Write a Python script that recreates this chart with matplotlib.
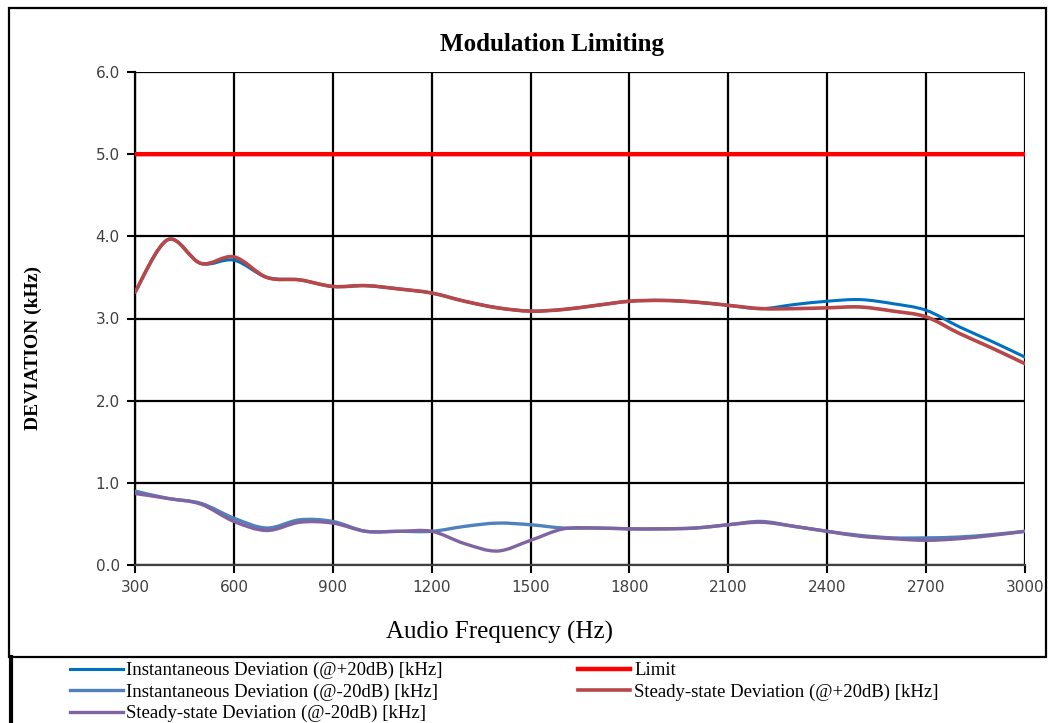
import numpy as np
import matplotlib.pyplot as plt
from matplotlib.path import Path
from matplotlib.patches import PathPatch, Rectangle
from matplotlib.lines import Line2D

# Audio frequency (Hz)
freq = [300, 400, 500, 600, 700, 800, 900, 1000, 1100, 1200, 1300, 1400, 1500, 1600,
        1700, 1800, 1900, 2000, 2100, 2200, 2300, 2400, 2500, 2600, 2700, 2800, 2900, 3000]

# Deviation (kHz)
inst_p20 = [3.32, 3.96, 3.67, 3.71, 3.50, 3.47, 3.39, 3.40, 3.36, 3.31, 3.21, 3.13, 3.09, 3.11,
            3.16, 3.21, 3.22, 3.20, 3.16, 3.12, 3.17, 3.21, 3.23, 3.18, 3.10, 2.90, 2.72, 2.53]
steady_p20 = [3.32, 3.96, 3.67, 3.75, 3.50, 3.47, 3.39, 3.40, 3.36, 3.31, 3.21, 3.13, 3.09, 3.11,
              3.16, 3.21, 3.22, 3.20, 3.16, 3.12, 3.12, 3.13, 3.14, 3.09, 3.02, 2.82, 2.64, 2.45]
inst_m20 = [0.90, 0.81, 0.75, 0.57, 0.45, 0.55, 0.53, 0.41, 0.41, 0.41, 0.47, 0.51, 0.49, 0.45,
            0.45, 0.44, 0.44, 0.45, 0.49, 0.53, 0.47, 0.41, 0.36, 0.33, 0.33, 0.34, 0.37, 0.41]
steady_m20 = [0.87, 0.81, 0.74, 0.53, 0.42, 0.52, 0.51, 0.41, 0.41, 0.41, 0.26, 0.17, 0.30, 0.44,
              0.45, 0.44, 0.44, 0.45, 0.49, 0.52, 0.47, 0.41, 0.35, 0.32, 0.30, 0.32, 0.36, 0.41]
limit = [5.0] * len(freq)

labels = ['Instantaneous Deviation (@+20dB) [kHz]', 'Limit',
          'Instantaneous Deviation (@-20dB) [kHz]', 'Steady-state Deviation (@+20dB) [kHz]',
          'Steady-state Deviation (@-20dB) [kHz]']
colors = ['#0070C0', '#FF0000', '#4F81BD', '#B8474A', '#8064A2']
widths = [2.2, 3.2, 2.4, 2.6, 2.4]


def smooth_path(x, y):
    # Excel-style smoothed line: Catmull-Rom segments as cubic Bezier curves
    x = np.asarray(x, float)
    y = np.asarray(y, float)
    pts = np.column_stack([x, y])
    ext = np.vstack([pts[0], pts, pts[-1]])
    verts = [pts[0]]
    codes = [Path.MOVETO]
    for i in range(len(pts) - 1):
        p0, p1, p2, p3 = ext[i], ext[i + 1], ext[i + 2], ext[i + 3]
        verts += [p1 + (p2 - p0) / 6, p2 - (p3 - p1) / 6, p2]
        codes += [Path.CURVE4] * 3
    return Path(verts, codes)


fig = plt.figure(figsize=(10.48, 7.23), dpi=100)
ax = fig.add_axes([135 / 1048, 1 - 565 / 723, 890 / 1048, 493 / 723])

series = [inst_p20, limit, inst_m20, steady_p20, steady_m20]
handles = []
for vals, lab, c, w in zip(series, labels, colors, widths):
    ax.add_patch(PathPatch(smooth_path(freq, vals), fill=False, edgecolor=c, lw=w,
                           capstyle='round', joinstyle='round', zorder=3))
    handles.append(Line2D([], [], color=c, lw=w, label=lab))

ax.set_xlim(300, 3000)
ax.set_ylim(0, 6)
ax.set_xticks(range(300, 3001, 300))
ax.set_yticks(np.arange(0, 6.01, 1.0))
ax.set_yticklabels([f'{v:.1f}' for v in np.arange(0, 6.01, 1.0)])
ax.grid(True, color='black', lw=1.6)
ax.set_axisbelow(True)
for s in ax.spines.values():
    s.set_visible(False)
ax.spines['left'].set_visible(True)
ax.spines['bottom'].set_visible(True)
ax.spines['left'].set_color('black')
ax.spines['bottom'].set_color('#404040')
ax.spines['left'].set_linewidth(1.6)
ax.spines['bottom'].set_linewidth(1.6)
ax.tick_params(axis='both', direction='out', length=6, width=1.5, color='black',
               labelsize=11, labelcolor='#404040')
ax.tick_params(axis='x', pad=5)
ax.tick_params(axis='y', pad=5)
for t in ax.get_xticklabels() + ax.get_yticklabels():
    t.set_fontfamily('DejaVu Sans')

fig.text(552 / 1048, 1 - 45 / 723, 'Modulation Limiting', ha='center', va='center',
         fontfamily='Liberation Serif', fontweight='bold', fontsize=18)
fig.text(33 / 1048, 1 - 348 / 723, 'DEVIATION (kHz)', rotation=90, ha='center', va='center',
         fontfamily='Liberation Serif', fontweight='bold', fontsize=14)
fig.text(500 / 1048, 1 - 632 / 723, 'Audio Frequency (Hz)', ha='center', va='center',
         fontfamily='Liberation Serif', fontsize=18)

# chart frame and legend frame
fig.add_artist(Rectangle((9 / 1048, 1 - 657 / 723), 1037 / 1048, 649 / 723, transform=fig.transFigure,
                         fill=False, edgecolor='black', lw=1.6))
fig.add_artist(Line2D([11 / 1048, 11 / 1048], [0, 1 - 657 / 723], transform=fig.transFigure,
                      color='black', lw=3))

order = [0, 2, 4, 1, 3]
fig.legend([handles[i] for i in order], [labels[i] for i in order], ncol=2,
           loc='upper left', bbox_to_anchor=(70 / 1048, 1 - 662 / 723), frameon=False,
           prop={'family': 'Liberation Serif', 'size': 13.5}, handlelength=2.8, handletextpad=0.2,
           columnspacing=7.2, labelspacing=0.22, borderaxespad=0, borderpad=0)

fig.savefig('out.png', dpi=100)
